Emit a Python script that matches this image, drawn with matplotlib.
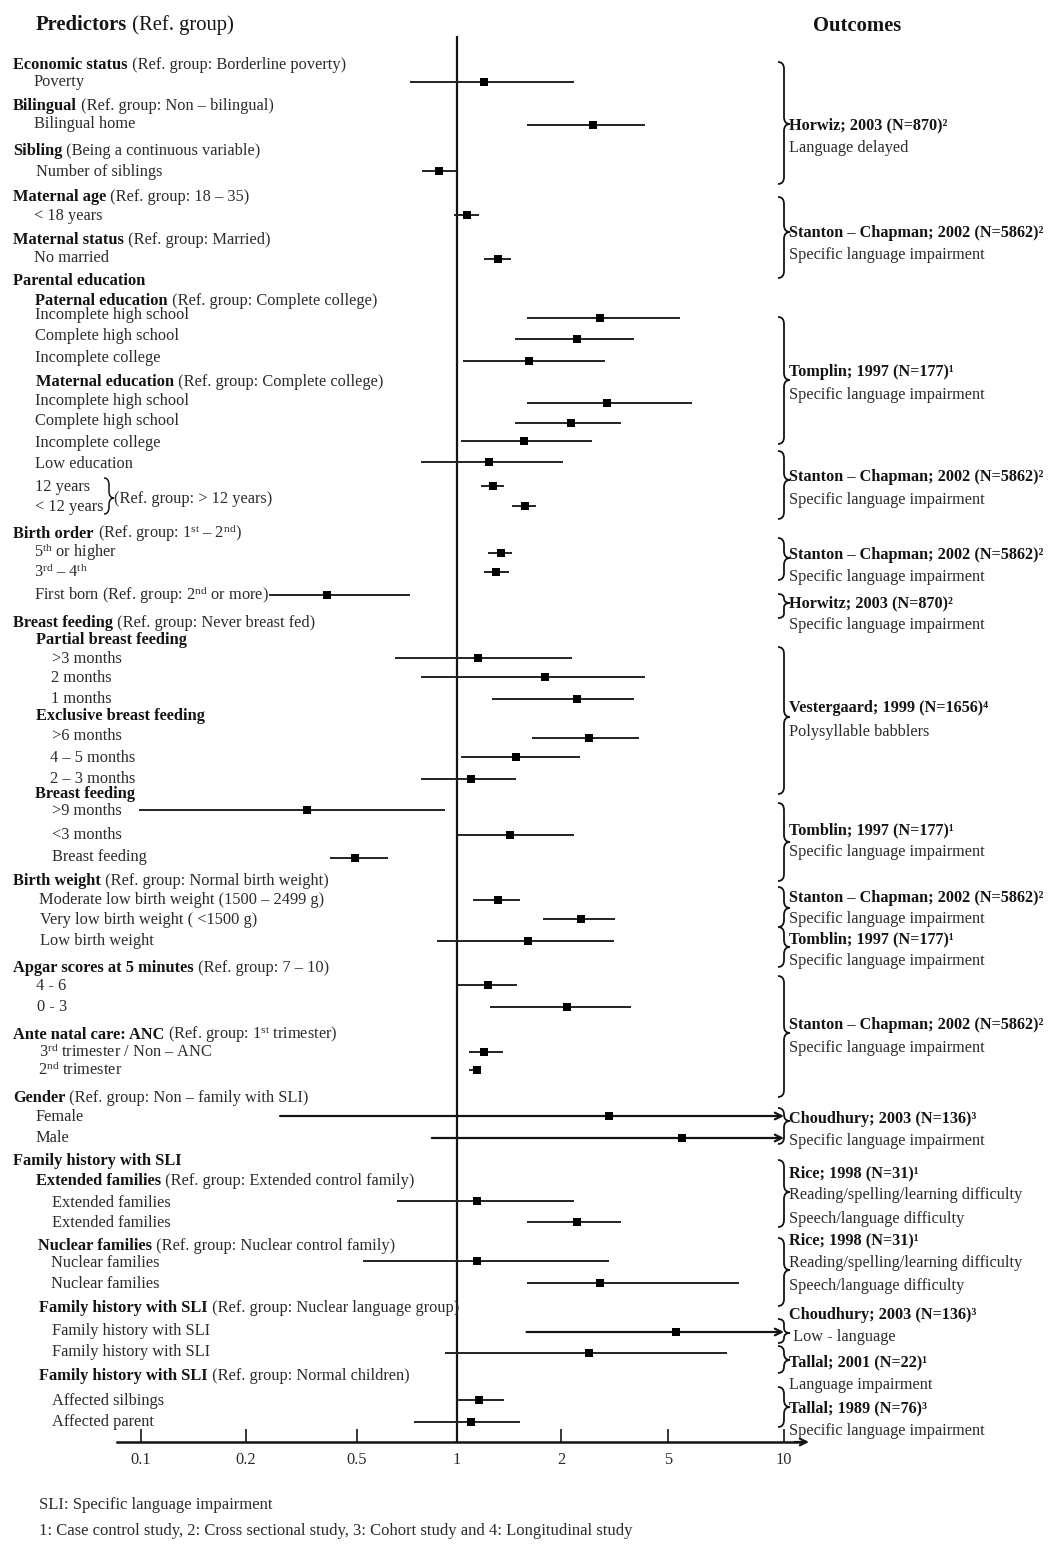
import numpy as np
import matplotlib
matplotlib.use("Agg")
import matplotlib.pyplot as plt
from matplotlib.path import Path
from matplotlib.patches import PathPatch
from matplotlib.ticker import NullLocator

plt.rcParams['font.family'] = ['Liberation Serif', 'DejaVu Serif']
plt.rcParams['mathtext.fontset'] = 'custom'
plt.rcParams['mathtext.rm'] = 'Liberation Serif'
plt.rcParams['mathtext.bf'] = 'Liberation Serif:bold'
plt.rcParams['mathtext.it'] = 'Liberation Serif:italic'

# ------------------------------------------------------------------ data
TICK_VALUES = [0.1, 0.2, 0.5, 1, 2, 5, 10]
TICK_LABELS = ['0.1', '0.2', '0.5', '1', '2', '5', '10']

ROW_NAMES = [
    'Poverty', 'Bilingual home', 'Number of siblings', '< 18 years', 'No married',
    'Pat: Incomplete high school', 'Pat: Complete high school', 'Pat: Incomplete college',
    'Mat: Incomplete high school', 'Mat: Complete high school', 'Mat: Incomplete college',
    'Low education', '12 years', '< 12 years',
    '5th or higher', '3rd - 4th', 'First born',
    'Partial >3 months', 'Partial 2 months', 'Partial 1 months',
    'Exclusive >6 months', 'Exclusive 4-5 months', 'Exclusive 2-3 months',
    'BF >9 months', 'BF <3 months', 'Breast feeding',
    'Moderate low birth weight', 'Very low birth weight', 'Low birth weight',
    'Apgar 4-6', 'Apgar 0-3', '3rd trimester / Non-ANC', '2nd trimester',
    'Female', 'Male',
    'Extended families (a)', 'Extended families (b)',
    'Nuclear families (a)', 'Nuclear families (b)',
    'Family history with SLI (a)', 'Family history with SLI (b)',
    'Affected silbings', 'Affected parent',
]
ODDS_RATIO = [
    1.20, 2.63, 0.88, 1.07, 1.31,
    2.79, 2.29, 1.62,
    2.97, 2.18, 1.56,
    1.24, 1.27, 1.57,
    1.34, 1.30, 0.39,
    1.15, 1.80, 2.29,
    2.54, 1.48, 1.10,
    0.33, 1.42, 0.49,
    1.31, 2.37, 1.61,
    1.23, 2.11, 1.20, 1.14,
    3.02, 5.44,
    1.14, 2.29,
    1.14, 2.79,
    5.25, 2.54,
    1.16, 1.10,
]
LOWER = [
    0.72, 1.59, 0.785, 0.98, 1.20,
    1.59, 1.47, 1.04,
    1.59, 1.47, 1.03,
    0.78, 1.17, 1.44,
    1.23, 1.20, 0.242,
    0.65, 0.78, 1.26,
    1.65, 1.03, 0.78,
    0.099, 1.00, 0.40,
    1.11, 1.77, 0.87,
    1.005, 1.25, 1.08, 1.08,
    0.265, 0.84,
    0.66, 1.59,
    0.52, 1.59,
    1.59, 0.92,
    1.00, 0.74,
]
UPPER = [
    2.23, 4.10, 1.00, 1.16, 1.43,
    5.37, 3.74, 2.92,
    5.77, 3.34, 2.61,
    2.03, 1.37, 1.69,
    1.44, 1.41, 0.72,
    2.20, 4.10, 3.74,
    3.90, 2.35, 1.48,
    0.92, 2.23, 0.62,
    1.52, 3.18, 3.15,
    1.49, 3.64, 1.36, 1.17,
    np.inf, np.inf,
    2.23, 3.34,
    3.02, 7.64,
    np.inf, 7.11,
    1.37, 1.52,
]

LEFT_BOLD = [
    'Economic status', '', 'Bilingual', '', 'Sibling', '', 'Maternal age', '',
    'Maternal status', '', 'Parental education', 'Paternal education', '', '', '',
    'Maternal education', '', '', '', '', '', '', '',
    'Birth order', '', '', '', 'Breast feeding', 'Partial breast feeding', '', '', '',
    'Exclusive breast feeding', '', '', '', 'Breast feeding', '', '', '',
    'Birth weight', '', '', '', 'Apgar scores at 5 minutes', '', '',
    'Ante natal care: ANC', '', '', 'Gender', '', '', 'Family history with SLI',
    'Extended families', '', '', 'Nuclear families', '', '',
    'Family history with SLI', '', '', 'Family history with SLI', '', '',
]
LEFT_REST = [
    ' (Ref. group: Borderline poverty)', 'Poverty',
    ' (Ref. group: Non – bilingual)', 'Bilingual home',
    ' (Being a continuous variable)', 'Number of siblings',
    ' (Ref. group: 18 – 35)', '< 18 years',
    ' (Ref. group: Married)', 'No married',
    '', ' (Ref. group: Complete college)',
    'Incomplete high school', 'Complete high school', 'Incomplete college',
    ' (Ref. group: Complete college)',
    'Incomplete high school', 'Complete high school', 'Incomplete college',
    'Low education', '12 years', '< 12 years', '(Ref. group: > 12 years)',
    r' (Ref. group: 1$^{\mathrm{st}}$ – 2$^{\mathrm{nd}}$)',
    r'5$^{\mathrm{th}}$ or higher', r'3$^{\mathrm{rd}}$ – 4$^{\mathrm{th}}$',
    r'First born (Ref. group: 2$^{\mathrm{nd}}$ or more)',
    ' (Ref. group: Never breast fed)', '', '>3 months', '2 months', '1 months',
    '', '>6 months', '4 – 5 months', '2 – 3 months',
    '', '>9 months', '<3 months', 'Breast feeding',
    ' (Ref. group: Normal birth weight)', 'Moderate low birth weight (1500 – 2499 g)',
    'Very low birth weight ( <1500 g)', 'Low birth weight',
    ' (Ref. group: 7 – 10)', '4 - 6', '0 - 3',
    r' (Ref. group: 1$^{\mathrm{st}}$ trimester)',
    r'3$^{\mathrm{rd}}$ trimester / Non – ANC', r'2$^{\mathrm{nd}}$ trimester',
    ' (Ref. group: Non – family with SLI)', 'Female', 'Male', '',
    ' (Ref. group: Extended control family)', 'Extended families', 'Extended families',
    ' (Ref. group: Nuclear control family)', 'Nuclear families', 'Nuclear families',
    ' (Ref. group: Nuclear language group)', 'Family history with SLI', 'Family history with SLI',
    ' (Ref. group: Normal children)', 'Affected silbings', 'Affected parent',
]

OUTCOME_STUDY = [
    'Horwiz; 2003 (N=870)²', 'Stanton – Chapman; 2002 (N=5862)²', 'Tomplin; 1997 (N=177)¹',
    'Stanton – Chapman; 2002 (N=5862)²', 'Stanton – Chapman; 2002 (N=5862)²',
    'Horwitz; 2003 (N=870)²', 'Vestergaard; 1999 (N=1656)⁴', 'Tomblin; 1997 (N=177)¹',
    'Stanton – Chapman; 2002 (N=5862)²', 'Tomblin; 1997 (N=177)¹',
    'Stanton – Chapman; 2002 (N=5862)²', 'Choudhury; 2003 (N=136)³',
    'Rice; 1998 (N=31)¹', 'Rice; 1998 (N=31)¹', 'Choudhury; 2003 (N=136)³',
    'Tallal; 2001 (N=22)¹', 'Tallal; 1989 (N=76)³',
]
OUTCOME_TEXT = [
    ['Language delayed'], ['Specific language impairment'], ['Specific language impairment'],
    ['Specific language impairment'], ['Specific language impairment'],
    ['Specific language impairment'], ['Polysyllable babblers'], ['Specific language impairment'],
    ['Specific language impairment'], ['Specific language impairment'],
    ['Specific language impairment'], ['Specific language impairment'],
    ['Reading/spelling/learning difficulty', 'Speech/language difficulty'],
    ['Reading/spelling/learning difficulty', 'Speech/language difficulty'],
    [' Low - language'], ['Language impairment'], ['Specific language impairment'],
]

# ------------------------------------------------------------------ layout (pixels)
W, H = 1051, 1544
TICK_PIX = np.array([141, 246, 357, 457, 561, 668, 784], float)
ROW_Y = [82, 125, 171, 215, 259, 318, 339, 361, 403, 423, 441, 462, 486, 506,
         553, 572, 595, 658, 677, 699, 738, 757, 779, 810, 835, 858, 900, 919, 941,
         985, 1007, 1052, 1070, 1116, 1138, 1201, 1222, 1261, 1283, 1332, 1353, 1400, 1422]
LEFT_X = [13, 34, 13, 34, 13, 36, 13, 34, 13, 34, 13, 35, 35, 35, 35, 36, 35, 35, 35, 35,
          35, 35, 114, 13, 34, 34, 34, 13, 36, 52, 51, 51, 36, 52, 50, 50, 35, 52, 52, 52,
          13, 39, 40, 40, 13, 36, 37, 13, 39, 38, 13, 36, 36, 13, 36, 52, 52, 38, 51, 51,
          39, 52, 52, 39, 52, 52]
LEFT_Y = [64, 81, 105, 123, 150, 171, 196, 215, 239, 257, 280, 300, 314, 335, 357, 381,
          400, 420, 442, 463, 486, 506, 498, 533, 552, 572, 595, 622, 639, 658, 677, 698,
          715, 735, 757, 778, 793, 810, 834, 856, 880, 899, 919, 940, 967, 985, 1006,
          1034, 1052, 1070, 1097, 1116, 1137, 1160, 1180, 1202, 1222, 1245, 1262, 1283,
          1307, 1330, 1351, 1375, 1400, 1421]
BRACES = [(62, 184, 124), (197, 278, 232), (317, 444, 380), (451, 519, 480),
          (538, 580, 558), (594, 618, 603), (647, 794, 717), (803, 881, 842),
          (887, 927, 908), (927, 967, 947), (976, 1097, 1033), (1108, 1144, 1121),
          (1160, 1227, 1192), (1238, 1306, 1270), (1319, 1343, 1333),
          (1346, 1373, 1360), (1387, 1427, 1407)]
OUT_Y = [[124, 147], [232, 254], [371, 394], [476, 499], [554, 576], [602, 624],
         [707, 731], [829, 851], [897, 918], [938, 960], [1024, 1047], [1118, 1140],
         [1172, 1194, 1218], [1239, 1262, 1285], [1314, 1336], [1361, 1384], [1407, 1430]]
AXIS_Y = 1442
INK = '#141414'
GREY = '#2b2b2b'
FS = 11.8
FS_OUT = 11.7
FS_FOOT = 12.0
FS_TITLE = 14.9

LOGT = np.log10(TICK_VALUES)
SLO = (TICK_PIX[1] - TICK_PIX[0]) / (LOGT[1] - LOGT[0])
SHI = (TICK_PIX[-1] - TICK_PIX[-2]) / (LOGT[-1] - LOGT[-2])
PSLO = 1.0 / SLO
PSHI = 1.0 / SHI


def fwd(x):
    x = np.asarray(x, float)
    lx = np.log10(np.clip(x, 1e-12, None))
    y = np.interp(lx, LOGT, TICK_PIX)
    y = np.where(lx < LOGT[0], TICK_PIX[0] + (lx - LOGT[0]) * SLO, y)
    y = np.where(lx > LOGT[-1], TICK_PIX[-1] + (lx - LOGT[-1]) * SHI, y)
    return y


def inv(p):
    p = np.asarray(p, float)
    lx = np.interp(p, TICK_PIX, LOGT)
    lx = np.where(p < TICK_PIX[0], LOGT[0] + (p - TICK_PIX[0]) * PSLO, lx)
    lx = np.where(p > TICK_PIX[-1], LOGT[-1] + (p - TICK_PIX[-1]) * PSHI, lx)
    return 10 ** lx


fig = plt.figure(figsize=(W / 100, H / 100), dpi=100)
fig.patch.set_facecolor('white')

# forest axes spanning the whole figure; x = custom OR scale
ax = fig.add_axes([0, 0, 1, 1])
ax.set_xscale('function', functions=(fwd, inv))
ax.set_xlim(float(inv(0)), float(inv(W)))
ax.set_ylim(H, 0)
ax.patch.set_visible(False)
for s in ['top', 'right', 'left']:
    ax.spines[s].set_visible(False)
ax.spines['bottom'].set_position(('data', AXIS_Y))
ax.spines['bottom'].set_bounds(float(inv(117)), float(inv(800)))
ax.spines['bottom'].set_linewidth(1.8)
ax.spines['bottom'].set_color(INK)
ax.set_yticks([])
ax.set_xticks(TICK_VALUES)
ax.set_xticklabels(TICK_LABELS)
ax.xaxis.set_minor_locator(NullLocator())
ax.tick_params(axis='x', direction='in', length=9.5, width=1.2, color=INK,
               pad=7, labelsize=FS, labelcolor=GREY)

# reference line at OR = 1
ax.vlines(1, 36, AXIS_Y, color=INK, lw=1.6, zorder=3)

lo = np.array(LOWER, float)
hi = np.array(UPPER, float)
y = np.array(ROW_Y, float)
fin = np.isfinite(hi)
ax.hlines(y[fin], lo[fin], hi[fin], color='#222222', lw=1.4, zorder=3)
for yy, l in zip(y[~fin], lo[~fin]):
    ax.annotate('', xy=(TICK_VALUES[-1], yy), xytext=(l, yy),
                arrowprops=dict(arrowstyle='->', lw=1.6, color=INK,
                                mutation_scale=12, shrinkA=0, shrinkB=0), zorder=3)
ax.plot(ODDS_RATIO, ROW_Y, 's', color='black', ms=5.5, zorder=4, markeredgewidth=0)

# overlay axes in pixel coordinates for text and braces
tx = fig.add_axes([0, 0, 1, 1])
tx.set_xlim(0, W)
tx.set_ylim(H, 0)
tx.axis('off')
tx.patch.set_visible(False)

# axis arrow head
tx.annotate('', xy=(809, AXIS_Y), xytext=(795, AXIS_Y),
            arrowprops=dict(arrowstyle='->', lw=1.6, color=INK, mutation_scale=12,
                            shrinkA=0, shrinkB=0))


def brace(x0, w, top, bottom, tip, lw=1.3):
    xm = x0 + w * 0.5
    r = min(7.0, (tip - top) / 2.0, (bottom - tip) / 2.0)
    verts = [(x0, top), (xm, top), (xm, top + r),
             (xm, tip - r), (xm, tip), (x0 + w, tip),
             (xm, tip), (xm, tip + r),
             (xm, bottom - r), (xm, bottom), (x0, bottom)]
    codes = [Path.MOVETO, Path.CURVE3, Path.CURVE3,
             Path.LINETO, Path.CURVE3, Path.CURVE3,
             Path.CURVE3, Path.CURVE3,
             Path.LINETO, Path.CURVE3, Path.CURVE3]
    tx.add_patch(PathPatch(Path(verts, codes), fc='none', ec=INK, lw=lw))


renderer = fig.canvas.get_renderer()

# titles
t = tx.text(36, 25, 'Predictors', fontsize=FS_TITLE, fontweight='bold', color=INK,
            va='center', ha='left')
bb = t.get_window_extent(renderer=renderer)
tx.text(bb.x1, 25, ' (Ref. group)', fontsize=FS_TITLE, color=INK, va='center', ha='left')
tx.text(857, 26, 'Outcomes', fontsize=FS_TITLE, fontweight='bold', color=INK,
        va='center', ha='center')

# left labels
for b, r, x, yy in zip(LEFT_BOLD, LEFT_REST, LEFT_X, LEFT_Y):
    xb = x
    if b:
        t = tx.text(x, yy + 5, b, fontsize=FS, fontweight='bold', color=INK,
                    va='baseline', ha='left')
        xb = t.get_window_extent(renderer=renderer).x1
    if r:
        tx.text(xb, yy + 5, r, fontsize=FS, color=GREY, va='baseline', ha='left')

# brace for 12 years / < 12 years
brace(104, 10, 478, 514, 498, lw=1.1)

# outcomes on the right
for (top, bot, tip), study, lines, ys in zip(BRACES, OUTCOME_STUDY, OUTCOME_TEXT, OUT_Y):
    brace(778, 12, top, bot, tip)
    tx.text(789, ys[0] + 5, study, fontsize=FS_OUT, fontweight='bold', color=INK,
            va='baseline', ha='left')
    for line, yy in zip(lines, ys[1:]):
        tx.text(789, yy + 5, line, fontsize=FS_OUT, color=GREY, va='baseline', ha='left')

# footnotes
tx.text(39, 1504 + 5, 'SLI: Specific language impairment', fontsize=FS_FOOT, color=GREY,
        va='baseline', ha='left')
tx.text(39, 1530 + 5, '1: Case control study, 2: Cross sectional study, 3: Cohort study and '
        '4: Longitudinal study', fontsize=FS_FOOT, color=GREY, va='baseline', ha='left')

fig.savefig('out.png', dpi=100, facecolor='white')
